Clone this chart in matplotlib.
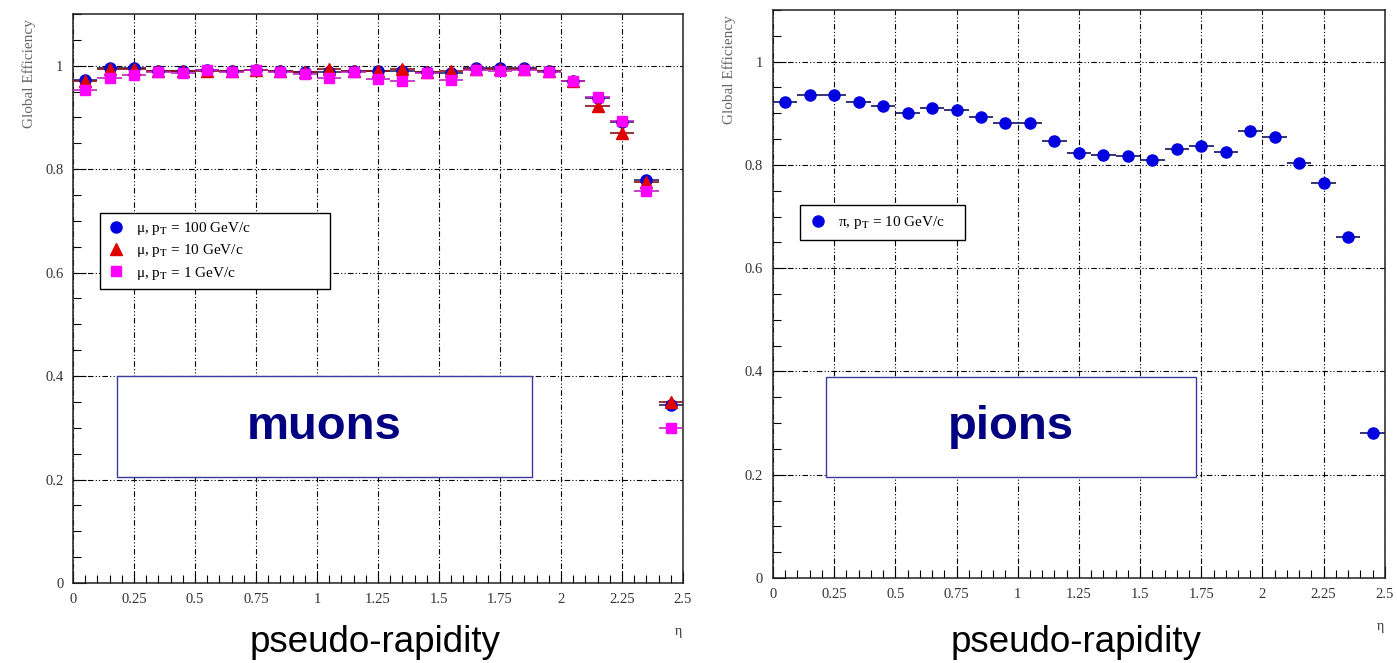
import numpy as np
import matplotlib
matplotlib.use("Agg")
import matplotlib.pyplot as plt
from matplotlib.patches import Rectangle
from matplotlib.lines import Line2D
from matplotlib.ticker import MultipleLocator

# ---------------- data ----------------
eta = np.arange(0.05, 2.5, 0.1)          # bin centres, bin width 0.1
half_bin = 0.05

mu_100 = [0.972, 0.995, 0.996, 0.990, 0.990, 0.991, 0.990, 0.992, 0.990, 0.988,
          0.988, 0.990, 0.990, 0.989, 0.988, 0.986, 0.995, 0.995, 0.995, 0.990,
          0.970, 0.938, 0.892, 0.780, 0.345]
mu_10 = [0.970, 0.993, 0.994, 0.990, 0.990, 0.990, 0.989, 0.992, 0.990, 0.988,
         0.993, 0.990, 0.990, 0.993, 0.988, 0.990, 0.993, 0.993, 0.993, 0.989,
         0.970, 0.922, 0.870, 0.775, 0.350]
mu_1 = [0.954, 0.977, 0.982, 0.988, 0.985, 0.992, 0.987, 0.992, 0.988, 0.984,
        0.977, 0.988, 0.974, 0.970, 0.985, 0.972, 0.992, 0.990, 0.992, 0.988,
        0.970, 0.939, 0.894, 0.757, 0.300]
pi_10 = [0.921, 0.936, 0.936, 0.921, 0.915, 0.900, 0.910, 0.907, 0.893, 0.881,
         0.881, 0.847, 0.823, 0.820, 0.817, 0.810, 0.830, 0.836, 0.825, 0.866,
         0.854, 0.804, 0.765, 0.661, 0.280]

mu_labels = [r"μ, p$_{\mathrm{T}}$ = 100 GeV/c",
             r"μ, p$_{\mathrm{T}}$ = 10 GeV/c",
             r"μ, p$_{\mathrm{T}}$ = 1 GeV/c"]
pi_label = r"π, p$_{\mathrm{T}}$ = 10 GeV/c"

plt.rcParams["mathtext.fontset"] = "stix"
SERIF = "Liberation Serif"
SANS = "Liberation Sans"
GRID = (0, (5, 2, 1, 2, 1, 2))


def style_axes(ax):
    ax.set_xlim(0, 2.5)
    ax.set_ylim(0, 1.1)
    ax.xaxis.set_major_locator(MultipleLocator(0.25))
    ax.xaxis.set_minor_locator(MultipleLocator(0.05))
    ax.yaxis.set_major_locator(MultipleLocator(0.2))
    ax.yaxis.set_minor_locator(MultipleLocator(0.05))
    ax.xaxis.set_major_formatter(plt.FuncFormatter(lambda v, p: f"{v:g}"))
    ax.yaxis.set_major_formatter(plt.FuncFormatter(lambda v, p: f"{v:g}"))
    ax.tick_params(which="both", direction="in", top=False, right=False,
                   labelsize=10.5, labelcolor="#333333", pad=7)
    ax.tick_params(which="major", length=9, width=0.8)
    ax.tick_params(which="minor", length=6, width=0.8)
    for lab in ax.get_xticklabels() + ax.get_yticklabels():
        lab.set_fontfamily(SERIF)
    ax.grid(True, which="major", color="black", lw=0.8, ls=GRID)
    for s in ax.spines.values():
        s.set_linewidth(1.1)
        s.set_color("#222222")
    ax.text(-0.072, 0.895, "Global Efficiency", transform=ax.transAxes,
            rotation=90, ha="center", va="center", fontsize=11,
            family=SERIF, color="#666666")
    ax.text(0.993, -0.086, "η", transform=ax.transAxes, ha="center",
            va="center", fontsize=10, family=SERIF, color="#333333")


def label_box(ax, x0, x1, y0, y1, word):
    ax.add_patch(Rectangle((x0, y0), x1 - x0, y1 - y0, facecolor="white",
                           edgecolor="#3a3aa0", lw=1.0, zorder=3))
    ax.text((x0 + x1) / 2, (y0 + y1) / 2, word, ha="center", va="center",
            fontsize=34, fontweight="bold", color="#000080", family=SANS,
            zorder=4)


def legend_box(ax, handles, labels, anchor, pad):
    leg = ax.legend(handles, labels, loc="upper left", bbox_to_anchor=anchor,
                    mode="expand", borderaxespad=0, fancybox=False,
                    edgecolor="black", framealpha=1, borderpad=pad,
                    labelspacing=0.35, handletextpad=0.7, handlelength=1.2,
                    prop={"family": SERIF, "size": 11})
    leg.get_frame().set_linewidth(1.0)
    leg.set_zorder(6)
    return leg


fig = plt.figure(figsize=(13.97, 6.63), dpi=100)
axL = fig.add_axes([0.0523, 0.1207, 0.4366, 0.8582])
axR = fig.add_axes([0.5533, 0.1282, 0.4380, 0.8567])

# ---------- muons ----------
style_axes(axL)
series = [(mu_100, "o", "#0000e0", "#30206a", 8),
          (mu_10, "^", "#e00000", "#8a1010", 8),
          (mu_1, "s", "#ff00ff", "#c020c0", 7.5)]
proxies = []
for vals, mk, col, ecol, ms in series:
    axL.errorbar(eta, vals, xerr=half_bin, fmt=mk, color=col, ms=ms,
                 ecolor=ecol, elinewidth=1.2, capsize=0, zorder=5)
    proxies.append(Line2D([], [], ls="none", marker=mk, color=col, ms=ms))
label_box(axL, 0.18, 1.88, 0.205, 0.40, "muons")
legend_box(axL, proxies, mu_labels, (0.044, 0.65, 0.377, 0.0), 0.45)

# ---------- pions ----------
style_axes(axR)
axR.errorbar(eta, pi_10, xerr=half_bin, fmt="o", color="#0000e0", ms=8,
             ecolor="#101060", elinewidth=1.2, capsize=0, zorder=5)
label_box(axR, 0.217, 1.73, 0.195, 0.39, "pions")
legend_box(axR, [Line2D([], [], ls="none", marker="o", color="#0000e0", ms=8)],
           [pi_label], (0.044, 0.657, 0.27, 0.0), 0.6)

# big axis captions under each panel
for xc in (0.2684, 0.770):
    fig.text(xc, 0.0166, "pseudo-rapidity", ha="center", va="baseline",
             fontsize=26.5, family=SANS)

fig.savefig("out.png", dpi=100)
